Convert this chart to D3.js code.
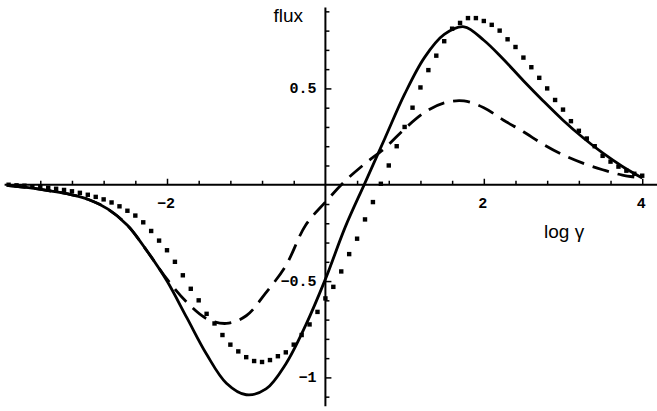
<!DOCTYPE html>
<html>
<head>
<meta charset="utf-8">
<script src="https://cdn.jsdelivr.net/npm/d3@7"></script>
<style>
  html, body { margin: 0; padding: 0; background: #fff; }
  svg { display: block; }
  .tick-label { font-family: "Liberation Mono", "DejaVu Sans Mono", monospace; font-weight: bold; font-size: 15px; fill: #000; }
  .axis-title { font-family: "Liberation Sans", Arial, sans-serif; font-size: 19px; fill: #000; }
</style>
</head>
<body>
<svg id="chart" width="657" height="411"></svg>
<script>
// Flux versus log(gamma): three model curves.
const curveX = [-4, -3.75, -3.5, -3.25, -3, -2.75, -2.5, -2.25, -2, -1.75, -1.5, -1.25, -1, -0.75, -0.5, -0.25,
                0, 0.25, 0.5, 0.75, 1, 1.25, 1.5, 1.75, 2, 2.25, 2.5, 2.75, 3, 3.25, 3.5, 3.75, 4];

// solid curve
const solidFlux = [-0.004, -0.015, -0.03, -0.048, -0.075, -0.125, -0.21, -0.345, -0.50, -0.69, -0.88, -1.03, -1.09, -1.06, -0.93, -0.73,
                   -0.49, -0.22, 0.01, 0.24, 0.47, 0.66, 0.78, 0.82, 0.75, 0.65, 0.54, 0.435, 0.335, 0.245, 0.165, 0.095, 0.035];

// dashed curve
const dashedFlux = [-0.004, -0.015, -0.03, -0.048, -0.075, -0.125, -0.21, -0.345, -0.49, -0.61, -0.695, -0.72, -0.68, -0.56, -0.42, -0.21,
                    -0.09, 0.02, 0.11, 0.19, 0.29, 0.375, 0.425, 0.435, 0.40, 0.335, 0.275, 0.21, 0.155, 0.112, 0.078, 0.05, 0.035];

// dotted series: one point every 0.1 in log gamma
const dotX = d3.range(0, 81).map(i => Math.round((-4 + i * 0.1) * 10) / 10);
const dotFlux = [
  0, -0.003, -0.005, -0.008, -0.012, -0.016, -0.021, -0.027, -0.034, -0.042,
  -0.052, -0.063, -0.076, -0.092, -0.112, -0.135, -0.16, -0.195, -0.24, -0.29,
  -0.34, -0.40, -0.47, -0.54, -0.60, -0.67, -0.72, -0.78, -0.83, -0.865,
  -0.895, -0.915, -0.92, -0.91, -0.89, -0.87, -0.83, -0.78, -0.725, -0.66,
  -0.59, -0.53, -0.45, -0.36, -0.28, -0.18, -0.09, 0.005, 0.10, 0.20,
  0.30, 0.40, 0.505, 0.595, 0.67, 0.745, 0.81, 0.84, 0.865, 0.865,
  0.85, 0.83, 0.80, 0.755, 0.715, 0.66, 0.61, 0.555, 0.50, 0.44,
  0.39, 0.33, 0.28, 0.24, 0.20, 0.15, 0.12, 0.094, 0.073, 0.057,
  0.047
];

const xMajorTicks = [-2, 2, 4];
const xTickLabels = ["\u22122", "2", "4"];
const yMajorTicks = [0.5, -0.5, -1];
const yTickLabels = ["0.5", "\u22120.5", "\u22121"];

const svg = d3.select("#chart");

const x = d3.scaleLinear().domain([-4, 4.15]).range([8.6, 654.1]);
const y = d3.scaleLinear().domain([-1.15, 0.92]).range([406.3, 7.5]);

const x0 = x(0), y0 = y(0);

// axes crossing at the origin
const xMinor = d3.range(-36, 41, 4).map(v => v / 10).filter(v => v !== 0 && xMajorTicks.indexOf(v) < 0);
const yMinor = d3.range(-11, 10, 1).map(v => v / 10).filter(v => v !== 0 && yMajorTicks.indexOf(v) < 0);

const xAxisMinor = d3.axisTop(x).tickValues(xMinor).tickSize(4).tickFormat("").tickSizeOuter(0);
const xAxisMajor = d3.axisTop(x).tickValues(xMajorTicks).tickSize(6).tickFormat("").tickSizeOuter(0);
const yAxisMinor = d3.axisRight(y).tickValues(yMinor).tickSize(4).tickFormat("").tickSizeOuter(0);
const yAxisMajor = d3.axisRight(y).tickValues(yMajorTicks).tickSize(6).tickFormat("").tickSizeOuter(0);

[xAxisMinor, xAxisMajor].forEach(a => {
  const g = svg.append("g").attr("transform", `translate(0,${y0})`).call(a);
  g.select(".domain").remove();
  g.selectAll("line").attr("stroke", "#000").attr("stroke-width", 1.5);
});
[yAxisMinor, yAxisMajor].forEach(a => {
  const g = svg.append("g").attr("transform", `translate(${x0},0)`).call(a);
  g.select(".domain").remove();
  g.selectAll("line").attr("stroke", "#000").attr("stroke-width", 1.5);
});

svg.append("line").attr("x1", x.range()[0] - 4).attr("x2", 657).attr("y1", y0).attr("y2", y0)
  .attr("stroke", "#000").attr("stroke-width", 2);
svg.append("line").attr("x1", x0).attr("x2", x0).attr("y1", y.range()[1]).attr("y2", y.range()[0])
  .attr("stroke", "#000").attr("stroke-width", 2);

// tick labels
svg.selectAll(".xl").data(xMajorTicks).enter().append("text")
  .attr("class", "tick-label")
  .attr("x", d => x(d) - 1)
  .attr("y", y0 + 23)
  .attr("text-anchor", "middle")
  .text((d, i) => xTickLabels[i]);

svg.selectAll(".yl").data(yMajorTicks).enter().append("text")
  .attr("class", "tick-label")
  .attr("x", x0 - 9)
  .attr("y", d => y(d) + 5)
  .attr("text-anchor", "end")
  .text((d, i) => yTickLabels[i]);

// axis titles
svg.append("text").attr("class", "axis-title").attr("x", 303).attr("y", 22).attr("text-anchor", "end").text("flux");
svg.append("text").attr("class", "axis-title").attr("x", 544).attr("y", 238).text("log \u03b3");

// curves
const line = d3.line().x(d => x(d[0])).y(d => y(d[1])).curve(d3.curveCatmullRom.alpha(0.5));

svg.append("path")
  .datum(curveX.map((v, i) => [v, solidFlux[i]]))
  .attr("d", line).attr("fill", "none").attr("stroke", "#000").attr("stroke-width", 2.8)
  .attr("stroke-linejoin", "round");

svg.append("path")
  .datum(curveX.map((v, i) => [v, dashedFlux[i]]))
  .attr("d", line).attr("fill", "none").attr("stroke", "#000").attr("stroke-width", 2.8)
  .attr("stroke-dasharray", "17,9");

svg.selectAll(".dot").data(dotX.map((v, i) => [v, dotFlux[i]])).enter().append("rect")
  .attr("x", d => x(d[0]) - 2.2).attr("y", d => y(d[1]) - 2.2)
  .attr("width", 4.4).attr("height", 4.4).attr("fill", "#000");
</script>
</body>
</html>
